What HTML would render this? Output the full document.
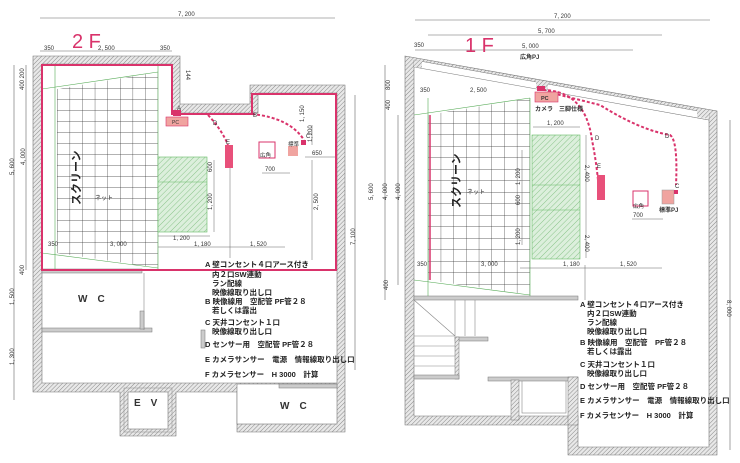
<!DOCTYPE html>
<html><head><meta charset="utf-8"><style>
html,body{margin:0;padding:0;background:#fff;width:740px;height:463px;overflow:hidden}
svg{display:block}
text{font-family:"Liberation Sans","Noto Sans CJK JP",sans-serif;fill:#333}
.d{font-size:6px}
.l{font-size:7.5px;font-weight:bold;fill:#222}
</style></head><body>
<svg width="740" height="463" viewBox="0 0 740 463" xmlns="http://www.w3.org/2000/svg">
<defs>
<pattern id="h" width="3" height="3" patternUnits="userSpaceOnUse" patternTransform="rotate(45)">
<rect width="3" height="3" fill="#e8e8e8"/><line x1="0" y1="0" x2="0" y2="3" stroke="#888" stroke-width="1"/></pattern>
<pattern id="gh" width="4" height="4" patternUnits="userSpaceOnUse" patternTransform="rotate(45)">
<rect width="4" height="4" fill="#dcefdc"/><line x1="0" y1="0" x2="0" y2="4" stroke="#8ac48a" stroke-width="1"/></pattern>
<pattern id="g1" x="57" y="88" width="12.6" height="11" patternUnits="userSpaceOnUse">
<path d="M0 0V11M0 0H12.6" stroke="#333" stroke-width="0.7" fill="none"/></pattern>
<pattern id="g2" x="428" y="100" width="12.7" height="11.5" patternUnits="userSpaceOnUse">
<path d="M0 0V11.5M0 0H12.7" stroke="#333" stroke-width="0.7" fill="none"/></pattern>
</defs>

<!-- ============ LEFT 2F ============ -->
<g stroke="#666" stroke-width="0.6">
<line x1="40" y1="18" x2="335" y2="18"/>
<line x1="40" y1="51" x2="172" y2="51"/>
<line x1="14" y1="65" x2="14" y2="400"/>
<line x1="26" y1="65" x2="26" y2="270"/>
<line x1="355" y1="95" x2="355" y2="370"/>
</g>
<text class="d" x="178" y="16">7, 200</text>
<text x="72" y="48" style="font-size:20px;fill:#d9336b">2 F</text>
<text class="d" x="44" y="50">350</text><text class="d" x="98" y="50">2, 500</text><text class="d" x="160" y="50">350</text>
<text class="d" transform="translate(24,90) rotate(-90)">400 200</text>
<text class="d" transform="translate(14,175) rotate(-90)">5, 600</text>
<text class="d" transform="translate(25,165) rotate(-90)">4, 000</text>
<text class="d" transform="translate(24,275) rotate(-90)">400</text>
<text class="d" transform="translate(14,305) rotate(-90)">1, 500</text>
<text class="d" transform="translate(14,365) rotate(-90)">1, 300</text>
<text class="d" transform="translate(355,245) rotate(-90)">7, 100</text>
<text class="d" transform="translate(186,70) rotate(90)">144</text>

<!-- walls -->
<path fill="url(#h)" stroke="#777" stroke-width="0.6" fill-rule="evenodd"
 d="M33 56H180V104H250V85H345V432H237V392H176V436H120V392H33Z
    M42 64H172V113H258V93H337V383H42Z"/>
<rect x="237" y="384" width="100" height="40" fill="#fff" stroke="#777" stroke-width="0.6"/>
<rect x="128" y="392" width="40" height="37" fill="#fff" stroke="#777" stroke-width="0.6"/>
<rect x="124" y="388" width="48" height="44" fill="none" stroke="#999" stroke-width="0.6"/>
<rect x="42" y="269" width="100" height="4" fill="#ccc" stroke="#777" stroke-width="0.5"/>
<rect x="42" y="328" width="110" height="4" fill="#ccc" stroke="#777" stroke-width="0.5"/>
<line x1="144" y1="273" x2="144" y2="330" stroke="#888" stroke-width="0.6"/>
<rect x="140" y="311" width="4" height="18" fill="#ccc" stroke="#777" stroke-width="0.5"/>
<rect x="201" y="330" width="4" height="18" fill="#ccc" stroke="#777" stroke-width="0.5"/>
<rect x="279" y="384" width="58" height="4" fill="#ccc" stroke="#777" stroke-width="0.5"/>
<text x="78" y="302" style="font-size:10px;font-weight:bold">W　C</text>
<text x="134" y="406" style="font-size:10px;font-weight:bold">E　V</text>
<text x="280" y="409" style="font-size:10px;font-weight:bold">W　C</text>

<!-- grid -->
<polygon points="57,89 158,72 158,268 57,253" fill="url(#g1)"/>
<g stroke="#5a5" stroke-width="0.6" fill="none">
<line x1="42" y1="89" x2="158" y2="72"/><line x1="42" y1="253" x2="158" y2="268"/>
<line x1="55" y1="64" x2="55" y2="270"/>
<line x1="158" y1="64" x2="158" y2="270"/>
</g>
<rect x="158" y="157" width="49" height="75" fill="url(#gh)" stroke="#6b6" stroke-width="0.6"/>
<line x1="158" y1="182" x2="207" y2="182" stroke="#6b6" stroke-width="0.6"/>
<text x="45" y="230" transform="rotate(-90 50 200)" style="font-size:11px;font-weight:bold;fill:#222" >スクリーン</text>
<text class="d" x="95" y="200">ネット</text>
<g stroke="#666" stroke-width="0.5">
<line x1="214" y1="160" x2="214" y2="232"/><line x1="158" y1="236" x2="210" y2="236"/>
<line x1="158" y1="247" x2="285" y2="247"/><line x1="230" y1="160" x2="230" y2="258"/>
<line x1="312" y1="125" x2="312" y2="145"/><line x1="305" y1="157" x2="335" y2="157"/>
<line x1="262" y1="173" x2="290" y2="173"/><line x1="312" y1="160" x2="312" y2="260"/>
</g>
<text class="d" x="173" y="240">1, 200</text>
<text class="d" x="48" y="246">350</text><text class="d" x="110" y="246">3, 000</text>
<text class="d" x="194" y="246">1, 180</text><text class="d" x="250" y="246">1, 520</text>
<text class="d" x="265" y="171">700</text><text class="d" x="312" y="155">650</text>
<text class="d" transform="translate(212,172) rotate(-90)">600</text>
<text class="d" transform="translate(212,210) rotate(-90)">1, 200</text>
<text class="d" transform="translate(318,210) rotate(-90)">2, 500</text>
<text class="d" transform="translate(304,122) rotate(-90)">1, 150</text>
<text class="d" transform="translate(312,142) rotate(-90)">1, 200</text>
<!-- pink -->
<path d="M42 65H172V114H252V94H336V270H42Z" fill="none" stroke="#d9336b" stroke-width="2"/>
<path d="M176 114H252" stroke="#d9336b" stroke-width="2" stroke-dasharray="3 2"/>
<path d="M252 114Q290 118 304 140" fill="none" stroke="#d9336b" stroke-width="2" stroke-dasharray="3 2"/>
<path d="M208 115Q222 130 228 145" fill="none" stroke="#d9336b" stroke-width="2" stroke-dasharray="3 2"/>
<rect x="173" y="110" width="8" height="6" fill="#d9336b"/>
<rect x="166" y="117" width="22" height="9" fill="#f0a4a0" stroke="#d9336b" stroke-width="0.6"/>
<text x="172" y="124" style="font-size:5px">PC</text>
<rect x="225" y="145" width="8" height="23" fill="#e8507a"/>
<rect x="259" y="142" width="16" height="16" fill="#fff" stroke="#d9336b" stroke-width="1"/>
<text x="260" y="157" style="font-size:5.5px">広角</text>
<rect x="288" y="146" width="10" height="10" fill="#f0a4a0"/>
<text x="288" y="146" style="font-size:5.5px">標準</text>
<rect x="301" y="140" width="5" height="5" fill="#d9336b"/>
<text class="d" x="177" y="110">A</text><text class="d" x="253" y="117">B</text>
<text class="d" x="306" y="138">C</text><text class="d" x="213" y="125">D</text><text class="d" x="226" y="144">E</text>
<g class="l">
<text class="l" x="205" y="267">A 壁コンセント４口アース付き</text>
<text class="l" x="212" y="277">内２口SW連動</text>
<text class="l" x="212" y="286">ラン配線</text>
<text class="l" x="212" y="295">映像線取り出し口</text>
<text class="l" x="205" y="304">B 映像線用　空配管 PF管２８</text>
<text class="l" x="212" y="313">若しくは露出</text>
<text class="l" x="205" y="325">C 天井コンセント１口</text>
<text class="l" x="212" y="334">映像線取り出し口</text>
<text class="l" x="205" y="347">D センサー用　空配管 PF管２８</text>
<text class="l" x="205" y="362">E カメラサンサー　電源　情報線取り出し口</text>
<text class="l" x="205" y="377">F カメラセンサー　H 3000　計算</text>
</g>

<!-- ============ RIGHT 1F ============ -->
<g stroke="#666" stroke-width="0.6">
<line x1="415" y1="20" x2="710" y2="20"/>
<line x1="428" y1="35" x2="662" y2="35"/>
<line x1="415" y1="50" x2="633" y2="50"/>
<line x1="385" y1="65" x2="385" y2="300"/>
<line x1="398" y1="115" x2="398" y2="285"/>
<line x1="730" y1="120" x2="730" y2="450"/>
</g>
<text class="d" x="554" y="18">7, 200</text>
<text class="d" x="538" y="33">5, 700</text>
<text class="d" x="522" y="48">5, 000</text>
<text x="520" y="59" style="font-size:6px;font-weight:bold">広角PJ</text>
<text x="465" y="52" style="font-size:20px;fill:#d9336b">1 F</text>
<text class="d" x="414" y="47">350</text>
<text class="d" x="420" y="92">350</text><text class="d" x="470" y="92">2, 500</text>
<text class="d" transform="translate(390,90) rotate(-90)">800</text>
<text class="d" transform="translate(390,110) rotate(-90)">400</text>
<text class="d" transform="translate(373,200) rotate(-90)">5, 600</text>
<text class="d" transform="translate(387,200) rotate(-90)">4, 000</text>
<text class="d" transform="translate(400,200) rotate(-90)">4, 000</text>
<text class="d" transform="translate(388,290) rotate(-90)">400</text>
<text class="d" transform="translate(727,300) rotate(90)">8, 000</text>

<!-- walls -->
<path fill="url(#h)" stroke="#777" stroke-width="0.6"
 d="M405 56L717 111V455H568V425H405Z M414 65V416H578V447H709V120L414 66Z" fill-rule="evenodd"/>
<polygon points="414,60 709,113 709,120 414,67" fill="#fff" stroke="#777" stroke-width="0.5"/>
<polygon points="536,80 548,82 548,91 536,89" fill="url(#h)"/>
<polygon points="697,108 709,110 709,119 697,117" fill="url(#h)"/>
<polygon points="414,60 422,61 422,68 414,67" fill="url(#h)"/>
<rect x="414" y="296" width="164" height="4" fill="#ccc" stroke="#777" stroke-width="0.5"/>
<g stroke="#888" stroke-width="0.6" fill="none">
<line x1="414" y1="300" x2="455" y2="336"/>
<line x1="455" y1="300" x2="455" y2="336"/><line x1="465" y1="300" x2="465" y2="336"/><line x1="475" y1="300" x2="475" y2="336"/>
<line x1="414" y1="336" x2="455" y2="336"/><line x1="414" y1="346" x2="455" y2="346"/><line x1="414" y1="356" x2="455" y2="356"/><line x1="414" y1="366" x2="455" y2="366"/>
<rect x="522" y="380" width="44" height="33"/>
</g>
<rect x="455" y="337" width="33" height="4" fill="#ccc" stroke="#777" stroke-width="0.5"/>
<rect x="455" y="337" width="4" height="42" fill="url(#h)" stroke="#777" stroke-width="0.5"/>
<rect x="414" y="375" width="45" height="4" fill="#ccc" stroke="#777" stroke-width="0.5"/>
<rect x="488" y="377" width="90" height="4" fill="#ccc" stroke="#777" stroke-width="0.5"/>
<rect x="511" y="380" width="8" height="40" fill="url(#h)" stroke="#777" stroke-width="0.5"/>
<rect x="568" y="377" width="10" height="48" fill="url(#h)" stroke="#777" stroke-width="0.5"/>

<!-- grid -->
<polygon points="428,115 530,98 530,295 428,280" fill="url(#g2)"/>
<g stroke="#5a5" stroke-width="0.6" fill="none">
<line x1="414" y1="115" x2="530" y2="98"/><line x1="414" y1="280" x2="530" y2="295"/>
<line x1="428" y1="98" x2="428" y2="296"/><line x1="530" y1="98" x2="530" y2="296"/>
</g>
<line x1="430" y1="115" x2="430" y2="280" stroke="#d9336b" stroke-width="1.5"/>
<rect x="532" y="135" width="48" height="124" fill="url(#gh)" stroke="#6b6" stroke-width="0.6"/>
<line x1="532" y1="185" x2="580" y2="185" stroke="#6b6" stroke-width="0.6"/>
<line x1="532" y1="210" x2="580" y2="210" stroke="#6b6" stroke-width="0.6"/>
<text x="422" y="230" transform="rotate(-90 430 200)" style="font-size:11px;font-weight:bold;fill:#222">スクリーン</text>
<text class="d" x="467" y="194">ネット</text>
<g stroke="#666" stroke-width="0.5">
<line x1="533" y1="127" x2="580" y2="127"/><line x1="520" y1="268" x2="662" y2="268"/>
<line x1="632" y1="219" x2="663" y2="219"/><line x1="586" y1="135" x2="586" y2="258"/>
<line x1="522" y1="150" x2="522" y2="245"/><line x1="585" y1="265" x2="585" y2="300"/>
</g>
<text class="d" x="547" y="125">1, 200</text>
<text class="d" x="417" y="266">350</text><text class="d" x="481" y="266">3, 000</text>
<text class="d" x="563" y="266">1, 180</text><text class="d" x="620" y="266">1, 520</text>
<text class="d" x="633" y="217">700</text>
<text class="d" transform="translate(520,185) rotate(-90)">1, 200</text>
<text class="d" transform="translate(520,205) rotate(-90)">600</text>
<text class="d" transform="translate(520,245) rotate(-90)">1, 200</text>
<text class="d" transform="translate(585,165) rotate(90)">2, 400</text>
<text class="d" transform="translate(585,235) rotate(90)">2, 400</text>
<!-- pink -->
<path d="M538 90Q585 88 592 140Q596 160 598 180" fill="none" stroke="#d9336b" stroke-width="2" stroke-dasharray="3 2"/>
<path d="M548 92L600 105Q640 130 670 135Q678 140 676 185" fill="none" stroke="#d9336b" stroke-width="2" stroke-dasharray="3 2"/>
<rect x="537" y="86" width="8" height="5" fill="#d9336b"/>
<rect x="535" y="92" width="23" height="10" fill="#f0a4a0" stroke="#d9336b" stroke-width="0.6"/>
<text x="541" y="100" style="font-size:5.5px;font-weight:bold">PC</text>
<text x="535" y="111" style="font-size:6px;font-weight:bold">カメラ　三脚仕様</text>
<rect x="597" y="175" width="8" height="25" fill="#e8507a"/>
<rect x="633" y="191" width="15" height="15" fill="#fff" stroke="#d9336b" stroke-width="1"/>
<text x="633" y="208" style="font-size:5.5px">広角</text>
<rect x="662" y="190" width="12" height="14" fill="#f0a4a0" stroke="#999" stroke-width="0.5"/>
<rect x="674" y="190" width="4" height="4" fill="#d9336b"/>
<text x="659" y="212" style="font-size:6px;font-weight:bold">標準PJ</text>
<text class="d" x="595" y="140">D</text><text class="d" x="665" y="138">D</text>
<text class="d" x="675" y="188">C</text><text class="d" x="597" y="168">E</text>
<g>
<text class="l" x="580" y="307">A 壁コンセント４口アース付き</text>
<text class="l" x="587" y="316">内２口SW連動</text>
<text class="l" x="587" y="325">ラン配線</text>
<text class="l" x="587" y="334">映像線取り出し口</text>
<text class="l" x="580" y="345">B 映像線用　空配管　PF管２８</text>
<text class="l" x="587" y="354">若しくは露出</text>
<text class="l" x="580" y="367">C 天井コンセント１口</text>
<text class="l" x="587" y="376">映像線取り出し口</text>
<text class="l" x="580" y="389">D センサー用　空配管 PF管２８</text>
<text class="l" x="580" y="403">E カメラサンサー　電源　情報線取り出し口</text>
<text class="l" x="580" y="418">F カメラセンサー　H 3000　計算</text>
</g>
</svg>
</body></html>
